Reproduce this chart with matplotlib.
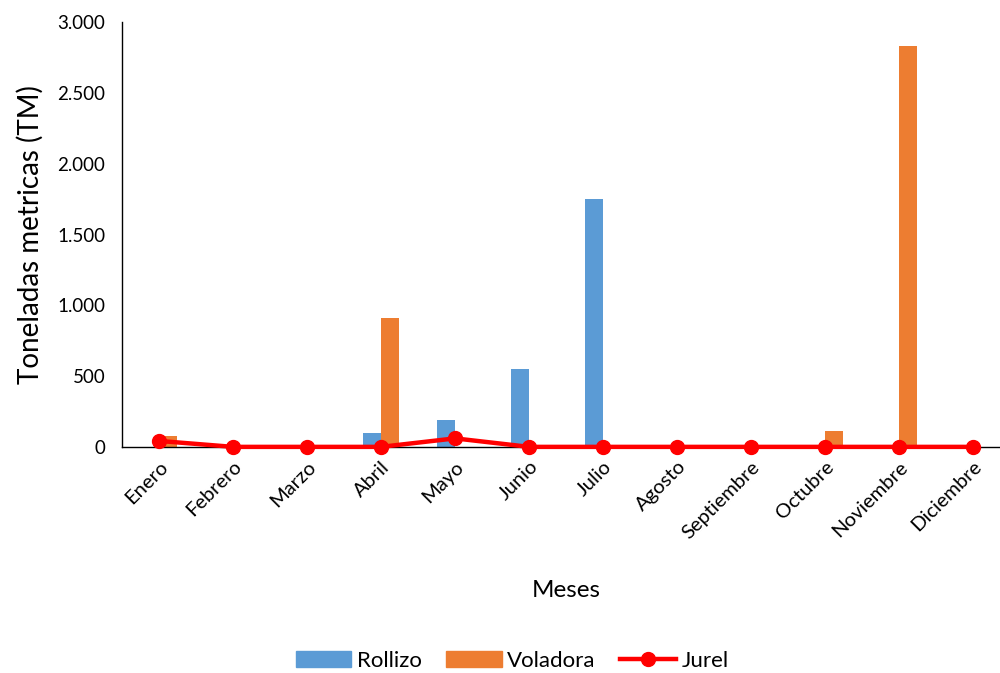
import matplotlib
matplotlib.use("Agg")
import matplotlib.pyplot as plt
from matplotlib.ticker import FuncFormatter
from matplotlib.lines import Line2D
from matplotlib.patches import Patch
import numpy as np

MESES = ["Enero", "Febrero", "Marzo", "Abril", "Mayo", "Junio", "Julio",
         "Agosto", "Septiembre", "Octubre", "Noviembre", "Diciembre"]
ROLLIZO = [0, 0, 0, 95, 190, 550, 1750, 0, 0, 0, 0, 0]
VOLADORA = [75, 0, 0, 910, 0, 0, 0, 0, 0, 115, 2830, 0]
JUREL = [42, 0, 0, 0, 60, 0, 0, 0, 0, 0, 0, 0]

C_ROLLIZO = "#5B9BD5"
C_VOLADORA = "#ED7D31"
C_JUREL = "#FF0000"

plt.rcParams["font.family"] = ["Lato", "DejaVu Sans"]

fig = plt.figure(figsize=(10, 6.73), dpi=100)
ax = fig.add_axes([0.122, 0.336, 0.888, 0.631])

x = np.arange(len(MESES))
w = 0.24
ax.bar(x - w / 2, ROLLIZO, w, color=C_ROLLIZO, zorder=2)
ax.bar(x + w / 2, VOLADORA, w, color=C_VOLADORA, zorder=2)
ax.plot(x, JUREL, color=C_JUREL, linewidth=3.2, marker="o", markersize=10, zorder=3,
        clip_on=False)

ax.set_xlim(-0.5, len(MESES) - 0.5)
ax.set_ylim(0, 3000)
ax.set_yticks(np.arange(0, 3001, 500))
ax.yaxis.set_major_formatter(FuncFormatter(lambda v, _: f"{int(v):,}".replace(",", ".")))
ax.set_xticks(x)
ax.set_xticklabels(MESES, rotation=45, ha="right", rotation_mode="anchor")
ax.tick_params(axis="both", length=0, colors="black")
ax.tick_params(axis="x", labelsize=14.5, pad=8)
ax.tick_params(axis="y", labelsize=13.5, pad=12)

for side in ("top", "right"):
    ax.spines[side].set_visible(False)
ax.spines["left"].set_linewidth(1.0)
ax.spines["bottom"].set_linewidth(1.0)

ax.set_ylabel("Toneladas metricas (TM)", fontsize=20, labelpad=10)
ax.set_xlabel("Meses", fontsize=17.5, labelpad=28)

handles = [
    Patch(color=C_ROLLIZO, label="Rollizo"),
    Patch(color=C_VOLADORA, label="Voladora"),
    Line2D([0], [0], color=C_JUREL, linewidth=3.2, marker="o", markersize=10, label="Jurel"),
]
fig.legend(handles=handles, loc="center", bbox_to_anchor=(0.512, 0.018), ncol=3,
           frameon=False, fontsize=16, handlelength=2.5, handleheight=0.7,
           columnspacing=1.1, handletextpad=0.25)

fig.savefig("out.png", dpi=100)
